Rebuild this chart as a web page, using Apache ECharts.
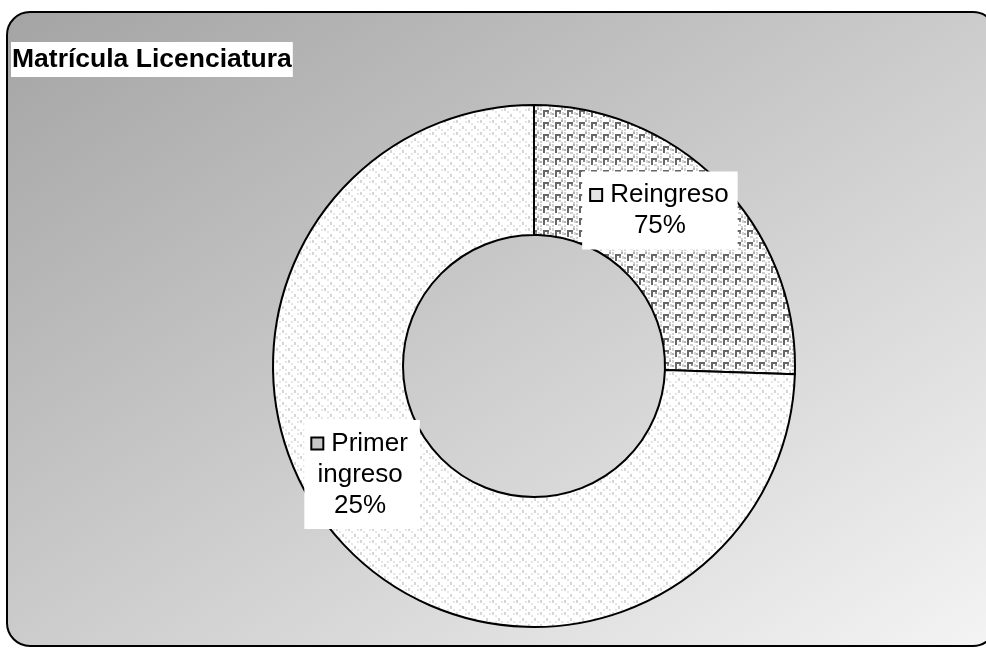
<!DOCTYPE html>
<html>
<head>
<meta charset="utf-8">
<script src="https://cdn.jsdelivr.net/npm/echarts@6/dist/echarts.min.js"></script>
<style>
  html, body { margin: 0; padding: 0; background: #fff; }
  #chart { width: 986px; height: 648px; }
</style>
</head>
<body>
<div id="chart"></div>
<script type="text/javascript">
    // datos del grafico
    var titleText = 'Matrícula Licenciatura';
    var categories = ['Reingreso', 'Primer ingreso'];
    var shares = [25.5, 74.5];
    // los porcentajes tal como aparecen en las etiquetas
    var labelPct = ['75%', '25%'];

    // tramas tipo Excel (pequenos canvas repetidos)
    function makePattern(draw) {
        var c = document.createElement('canvas');
        c.width = 12;
        c.height = 12;
        var ctx = c.getContext('2d');
        ctx.fillStyle = '#ffffff';
        ctx.fillRect(0, 0, 12, 12);
        draw(ctx);
        return c;
    }
    var patReingreso = makePattern(function (ctx) {
        ctx.fillStyle = '#d2d2d2';
        ctx.fillRect(0, 0, 2, 3);
        ctx.fillRect(6, 8, 3, 2);
        ctx.fillRect(10, 4, 2, 3);
        ctx.fillRect(0, 9, 2, 2);
        ctx.fillRect(9, 10, 2, 2);
        ctx.fillStyle = '#b0b0b0';
        ctx.fillRect(9, 0, 2, 2);
        ctx.fillRect(0, 5, 2, 2);
        ctx.fillStyle = '#666666';
        ctx.fillRect(3, 2, 2, 7);
        ctx.fillRect(5, 2, 4, 2);
        ctx.fillStyle = '#8c8c8c';
        ctx.fillRect(7, 4, 2, 2);
    });
    var patPrimer = makePattern(function (ctx) {
        ctx.fillStyle = '#d6d6d6';
        ctx.fillRect(0, 0, 2, 3);
        ctx.fillRect(6, 6, 2, 3);
        ctx.fillStyle = '#e6e6e6';
        ctx.fillRect(3, 3, 2, 2);
        ctx.fillRect(9, 9, 2, 2);
        ctx.fillRect(9, 1, 2, 2);
        ctx.fillRect(3, 9, 2, 2);
    });
    var patterns = [patReingreso, patPrimer];
    var keyBg = ['#e6e6e6', '#c8c8c8'];
    var labelOffsets = [[-17, -17], [-29, -30]];
    var labelPads = [[8, 9, 8, 9], [8, 12, 8, 8]];

    var seriesData = categories.map(function (name, i) {
        return {
            name: name,
            value: shares[i],
            itemStyle: { color: { image: patterns[i], repeat: 'repeat' } },
            label: {
                offset: labelOffsets[i],
                padding: labelPads[i],
                formatter: '{k|}{sp|}' + name.replace(' ', '\n') + '\n' + labelPct[i],
                rich: {
                    k: {
                        width: 10, height: 10,
                        borderColor: '#000', borderWidth: 2,
                        backgroundColor: keyBg[i]
                    },
                    sp: { width: 9 }
                }
            }
        };
    });

    var myChart = echarts.init(document.getElementById('chart'), null, { renderer: 'canvas' });

    // marco redondeado con degradado diagonal (esquinas opuestas con el mismo gris)
    var fx = 7, fy = 12, fw = 989, fh = 634;
    var dl = Math.sqrt(fw * fw + fh * fh);
    var span = 2 * fw * fh / dl;
    var gx2 = fx + span * fh / dl, gy2 = fy + span * fw / dl;

    var option = {
        animation: false,
        backgroundColor: '#ffffff',
        title: {
            text: titleText,
            left: 11,
            top: 42,
            padding: [3, 1, 3, 1],
            backgroundColor: '#ffffff',
            textStyle: {
                fontFamily: 'Liberation Sans, Arial, sans-serif',
                fontWeight: 'bold',
                fontSize: 26.5,
                lineHeight: 29,
                color: '#000'
            }
        },
        graphic: [{
            type: 'rect',
            z: -10,
            silent: true,
            shape: { x: fx, y: fy, width: fw, height: fh, r: 23 },
            style: {
                fill: new echarts.graphic.LinearGradient(fx, fy, gx2, gy2, [
                    { offset: 0, color: '#a4a4a4' },
                    { offset: 1, color: '#f4f4f4' }
                ], true),
                stroke: '#000',
                lineWidth: 2
            }
        }],
        series: [{
            type: 'pie',
            center: [534, 366],
            radius: [131, 261],
            startAngle: 90,
            clockwise: true,
            avoidLabelOverlap: false,
            silent: true,
            itemStyle: { borderColor: '#000', borderWidth: 2 },
            label: {
                show: true,
                position: 'inside',
                backgroundColor: '#ffffff',
                color: '#000',
                fontFamily: 'Liberation Sans, Arial, sans-serif',
                fontSize: 26,
                lineHeight: 31,
                align: 'center'
            },
            labelLine: { show: false },
            emphasis: { disabled: true },
            data: seriesData
        }]
    };

    myChart.setOption(option);
</script>
</body>
</html>
